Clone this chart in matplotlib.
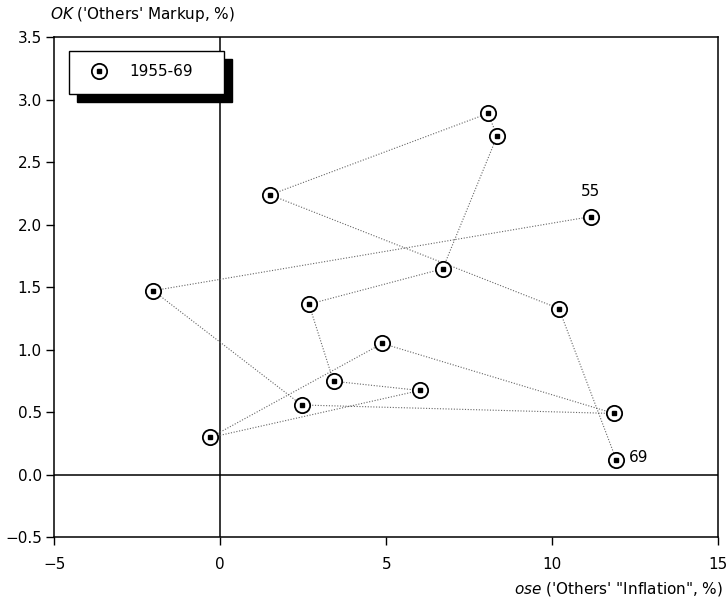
import matplotlib
matplotlib.use("Agg")
import matplotlib.pyplot as plt
from matplotlib.patches import Rectangle

# annual observations 1955-69, in path order
years = list(range(1955, 1970))
ose = [11.16, -2.02, 2.45, 11.86, 4.88, -0.30, 6.01, 3.41, 2.67, 6.70,
       8.34, 8.06, 1.50, 10.20, 11.93]
ok = [2.064, 1.472, 0.558, 0.490, 1.050, 0.298, 0.674, 0.748, 1.364, 1.647,
      2.709, 2.889, 2.238, 1.329, 0.118]

x_ticks = [-5, 0, 5, 10, 15]
y_ticks = [-0.5, 0.0, 0.5, 1.0, 1.5, 2.0, 2.5, 3.0, 3.5]
legend_label = "1955-69"

plt.rcParams["font.family"] = "DejaVu Sans"

fig = plt.figure(figsize=(7.27, 5.99), dpi=100)
ax = fig.add_axes([0.0747, 0.1030, 0.9133, 0.8352])

ax.axhline(0, color="black", lw=1.1, zorder=1)
ax.axvline(0, color="black", lw=1.1, zorder=1)

ax.plot(ose, ok, color="0.4", lw=0.8, linestyle=(0, (1, 1.5)), zorder=2)
ax.plot(ose, ok, linestyle="none", marker="o", markersize=11,
        markerfacecolor="white", markeredgecolor="black",
        markeredgewidth=1.3, zorder=3)
ax.plot(ose, ok, linestyle="none", marker="s", markersize=3.2,
        color="black", zorder=4)

# year labels at the ends of the path
ax.annotate(str(years[0])[2:], (ose[0], ok[0]), xytext=(0, 13),
            textcoords="offset points", ha="center", va="bottom", fontsize=11)
ax.annotate(str(years[-1])[2:], (ose[-1], ok[-1]), xytext=(9, 2),
            textcoords="offset points", ha="left", va="center", fontsize=11)

ax.set_xlim(-5, 15)
ax.set_ylim(-0.5, 3.5)
ax.set_xticks(x_ticks)
ax.set_yticks(y_ticks)
ax.set_yticklabels([f"{v:.1f}".replace("-", "\u2212") for v in y_ticks])
ax.tick_params(direction="out", length=6, width=1, labelsize=11)
ax.tick_params(axis="x", pad=8)
ax.tick_params(axis="y", pad=3)
for s in ax.spines.values():
    s.set_linewidth(1.1)

# legend box with a solid drop shadow
bx, by, bw, bh = 0.0226, 0.8855, 0.2330, 0.0871
ax.add_patch(Rectangle((bx + 0.0113, by - 0.016), bw, bh, transform=ax.transAxes,
                       facecolor="black", edgecolor="black", zorder=5))
ax.add_patch(Rectangle((bx, by), bw, bh, transform=ax.transAxes,
                       facecolor="white", edgecolor="black", lw=1, zorder=6))
ax.plot([0.0673], [0.932], transform=ax.transAxes, marker="o", markersize=11,
        markerfacecolor="white", markeredgecolor="black", markeredgewidth=1.3,
        zorder=7, clip_on=False)
ax.plot([0.0673], [0.932], transform=ax.transAxes, marker="s", markersize=3.2,
        color="black", zorder=8, clip_on=False)
ax.text(0.1125, 0.932, legend_label, transform=ax.transAxes, ha="left",
        va="center", fontsize=11, zorder=8)

fig.text(0.069, 0.975, r"$\it{OK}$ ('Others' Markup, %)", ha="left",
         va="center", fontsize=11)
fig.text(0.994, 0.017, r"$\it{ose}$ ('Others' " + '"Inflation", %)',
         ha="right", va="center", fontsize=11)

fig.savefig("out.png", dpi=100)
